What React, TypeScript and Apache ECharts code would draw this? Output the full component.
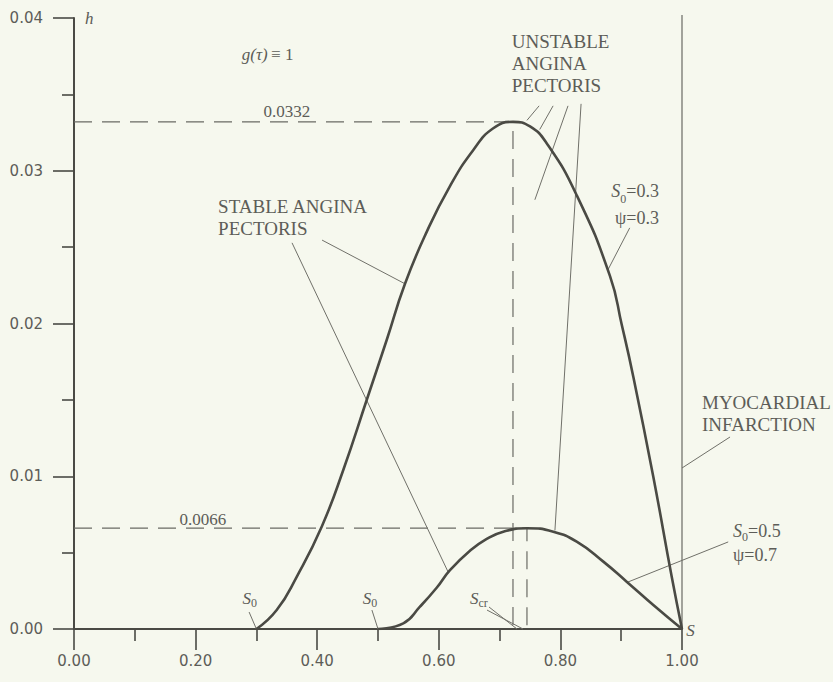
import React, { useEffect, useRef } from "react";
import * as echarts from "echarts";

// ---- data ----
// curve with S0 = 0.3, psi = 0.3
const curveA_s = [0.3, 0.3334, 0.3663, 0.4074, 0.4429, 0.4814, 0.5143, 0.5444, 0.5801, 0.6184, 0.6568, 0.6896, 0.722, 0.75, 0.7774, 0.8268, 0.8816, 0.901, 0.9199, 0.9528, 0.9831, 1.0];
const curveA_h = [0, 0.00124, 0.00342, 0.0067, 0.01041, 0.01499, 0.01892, 0.0226, 0.026, 0.029, 0.03136, 0.03278, 0.0332, 0.0329, 0.0318, 0.0284, 0.0231, 0.0199, 0.01652, 0.00997, 0.00342, 0];
// curve with S0 = 0.5, psi = 0.7
const curveB_s = [0.5, 0.5416, 0.569, 0.5965, 0.6184, 0.6513, 0.6788, 0.7061, 0.745, 0.7883, 0.8268, 0.8706, 0.909, 0.9528, 1.0];
const curveB_h = [0, 0.00037, 0.00146, 0.0027, 0.00385, 0.00512, 0.0059, 0.00637, 0.0066, 0.00637, 0.00572, 0.00441, 0.0031, 0.00157, 0];
// peaks (s at max, h max)
const peakA = [0.722, 0.0332];
const peakB = [0.745, 0.0066];
const peakLabels = ["0.0332", "0.0066"];
// myocardial infarction boundary
const boundaryS = 1.0;
const boundaryTop = 0.0402;

// axis ranges
const xRange = [0, 1];
const yRange = [0, 0.04];

// leader lines (data coordinates, start -> end)
const leaders: number[][][] = [
  [[0.408, 0.02546], [0.5444, 0.0226]],
  [[0.3586, 0.02528], [0.6157, 0.0037]],
  [[0.765, 0.03425], [0.745, 0.0333]],
  [[0.788, 0.03425], [0.766, 0.0327]],
  [[0.8125, 0.03425], [0.758, 0.0281]],
  [[0.834, 0.03438], [0.791, 0.00645]],
  [[0.914, 0.02626], [0.878, 0.0235]],
  [[1.079, 0.01257], [1.0, 0.01054]],
  [[1.076, 0.0057], [0.9095, 0.00305]],
  [[0.288, 0.00111], [0.3, 0]],
  [[0.49, 0.00124], [0.5, 0]],
  [[0.6826, 0.00144], [0.7286, 0]],
  [[0.6793, 0.00124], [0.7385, 0]],
];

// annotation texts, anchored (block centre) in data coordinates
type Note = { s: number; h: number; text: string; align: string };
const notes: Note[] = [
  { s: 0.35, h: 0.0339, text: "{n|" + peakLabels[0] + "}", align: "center" },
  { s: 0.212, h: 0.0072, text: "{n|" + peakLabels[1] + "}", align: "center" },
  { s: 0.018, h: 0.04, text: "{i|h}", align: "left" },
  { s: 0.276, h: 0.0376, text: "{i|g(τ)} {n|≡ 1}", align: "left" },
  { s: 0.237, h: 0.02694, text: "{b|STABLE ANGINA}\n{b|PECTORIS}", align: "left" },
  { s: 0.72, h: 0.03702, text: "{b|UNSTABLE}\n{b|ANGINA}\n{b|PECTORIS}", align: "left" },
  { s: 0.962, h: 0.02779, text: "{p|S}{sub|0}{q|=0.3}\n{q|ψ=0.3}", align: "right" },
  { s: 1.0329, h: 0.01408, text: "{b|MYOCARDIAL}\n{b|INFARCTION}", align: "left" },
  { s: 1.0839, h: 0.00563, text: "{r|S}{sub|0}{s|=0.5}\n{s|ψ=0.7}", align: "left" },
  { s: 0.289, h: 0.0020, text: "{i|S}{sub|0}", align: "center" },
  { s: 0.487, h: 0.0020, text: "{i|S}{sub|0}", align: "center" },
  { s: 0.666, h: 0.0020, text: "{i|S}{sub|cr}", align: "center" },
  { s: 1.007, h: -0.0001, text: "{i|S}", align: "left" },
];

const INK = "#4a4a44";
const GREY = "#5d5d58";
const LEADER = "#707069";
const SERIF = "'Liberation Serif', 'Times New Roman', serif";
const SANS = "'DejaVu Sans', sans-serif";

const rich = {
  n: { fontFamily: SERIF, fontSize: 17, color: GREY, lineHeight: 22 },
  b: { fontFamily: SERIF, fontSize: 19, color: GREY, lineHeight: 22 },
  i: { fontFamily: SERIF, fontSize: 17, fontStyle: "italic", color: GREY, lineHeight: 22 },
  p: { fontFamily: SERIF, fontSize: 18, fontStyle: "italic", color: GREY, lineHeight: 27 },
  q: { fontFamily: SERIF, fontSize: 18, color: GREY, lineHeight: 27 },
  r: { fontFamily: SERIF, fontSize: 18, fontStyle: "italic", color: GREY, lineHeight: 24 },
  s: { fontFamily: SERIF, fontSize: 18, color: GREY, lineHeight: 24 },
  sub: { fontFamily: SERIF, fontSize: 12, color: GREY, lineHeight: 14, verticalAlign: "bottom" },
};

const zip = (xs: number[], ys: number[]) => xs.map((x, i) => [x, ys[i]]);

export default function App() {
  const ref = useRef<HTMLDivElement>(null);
  useEffect(() => {
    if (!ref.current) return;
    const chart = echarts.init(ref.current, null, { renderer: "svg" });
    const dashed = { color: "#6a6a64", width: 1.2, type: [18, 10] as any };
    const series: any[] = [
      {
        type: "line",
        data: zip(curveA_s, curveA_h),
        smooth: 0.5,
        symbol: "none",
        lineStyle: { color: INK, width: 2.6 },
        z: 5,
      },
      {
        type: "line",
        data: zip(curveB_s, curveB_h),
        smooth: 0.5,
        symbol: "none",
        lineStyle: { color: INK, width: 2.6 },
        z: 5,
      },
      ...[peakA, peakB].map((p) => ({
        type: "line",
        data: [[xRange[0], p[1]], [p[0], p[1]], [p[0], yRange[0]]],
        symbol: "none",
        lineStyle: dashed,
        z: 3,
      })),
      {
        type: "line",
        data: [[boundaryS, yRange[0]], [boundaryS, boundaryTop]],
        symbol: "none",
        clip: false,
        lineStyle: { color: "#6a6a64", width: 1.2 },
        z: 3,
      },
    ];
    const option: any = {
      animation: false,
      backgroundColor: "#f6f8ee",
      grid: { left: 74, right: 151, top: 18, bottom: 53, containLabel: false },
      xAxis: {
        type: "value",
        min: xRange[0],
        max: xRange[1],
        interval: 0.2,
        axisLine: { lineStyle: { color: INK, width: 2 } },
        axisTick: { length: 21, lineStyle: { color: INK, width: 1.6 } },
        minorTick: { show: true, splitNumber: 2, length: 12, lineStyle: { color: INK, width: 1.6 } },
        splitLine: { show: false },
        axisLabel: {
          margin: 24,
          color: GREY,
          fontFamily: SANS,
          fontSize: 15,
          formatter: (v: number) => v.toFixed(2),
        },
      },
      yAxis: {
        type: "value",
        min: yRange[0],
        max: yRange[1],
        interval: 0.01,
        axisLine: { lineStyle: { color: INK, width: 2 } },
        axisTick: { length: 21, lineStyle: { color: INK, width: 1.6 } },
        minorTick: { show: true, splitNumber: 2, length: 12, lineStyle: { color: INK, width: 1.6 } },
        splitLine: { show: false },
        axisLabel: {
          margin: 31,
          color: GREY,
          fontFamily: SANS,
          fontSize: 15,
          formatter: (v: number) => v.toFixed(2),
        },
      },
      series,
    };
    chart.setOption(option);
    const toPx = (s: number, h: number) =>
      chart.convertToPixel({ gridIndex: 0 }, [s, h]) as number[];
    const lines = leaders.map((l) => {
      const a = toPx(l[0][0], l[0][1]);
      const b = toPx(l[1][0], l[1][1]);
      return {
        type: "line",
        z: 4,
        shape: { x1: a[0], y1: a[1], x2: b[0], y2: b[1] },
        style: { stroke: LEADER, lineWidth: 1 },
      };
    });
    const texts = notes.map((n) => {
      const p = toPx(n.s, n.h);
      return {
        type: "text",
        x: p[0],
        y: p[1],
        z: 10,
        style: {
          text: n.text,
          rich,
          align: n.align,
          verticalAlign: "middle",
          fill: GREY,
        },
      };
    });
    chart.setOption({ graphic: [...lines, ...texts] });
    return () => chart.dispose();
  }, []);
  return (
    <div
      ref={ref}
      style={{ position: "fixed", left: 0, top: 0, width: 833, height: 682, background: "#f6f8ee" }}
    />
  );
}
